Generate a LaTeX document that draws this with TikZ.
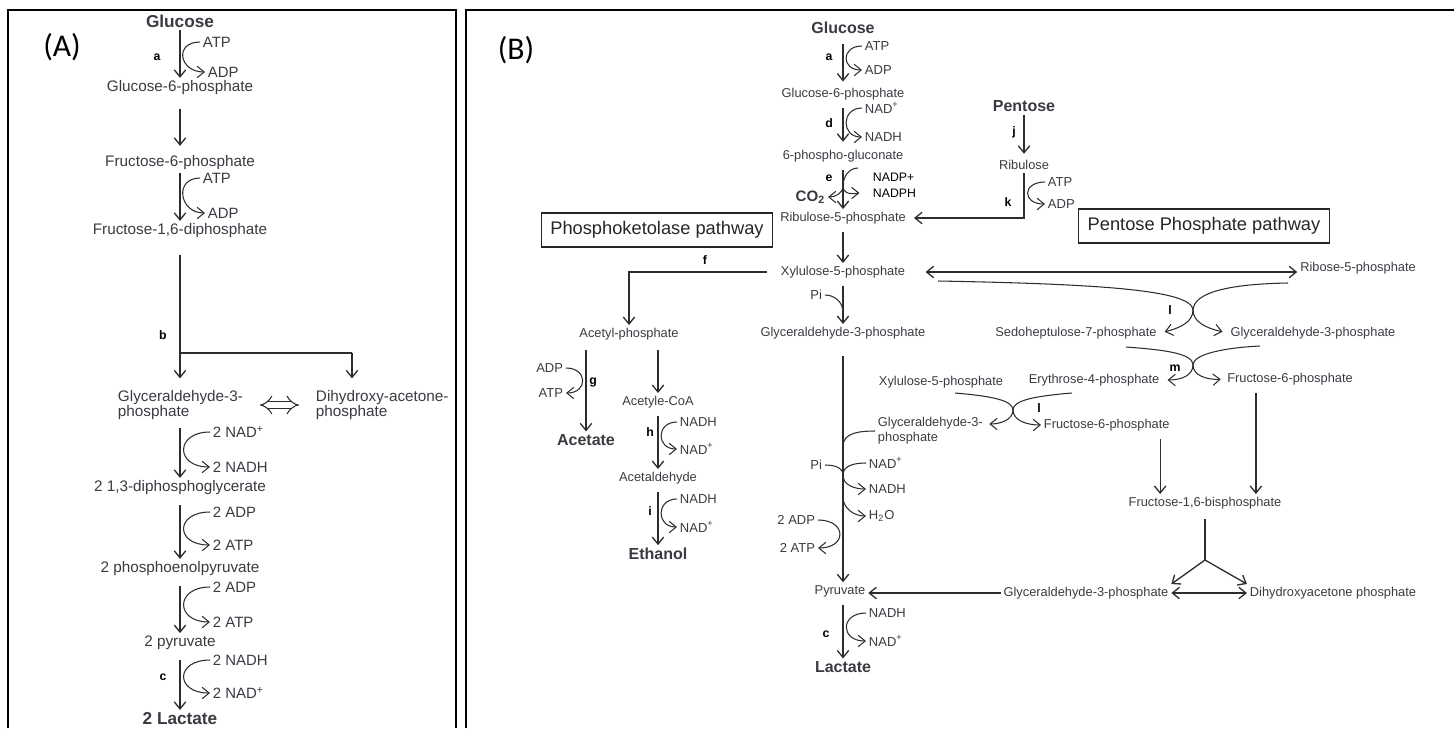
\documentclass[tikz,border=0pt]{standalone}
\usepackage{fontspec}
\setmainfont{Liberation Sans}
\newfontfamily\calib{Carlito}
\usetikzlibrary{arrows.meta}
\definecolor{ink}{RGB}{58,58,66}
\definecolor{wire}{RGB}{45,45,45}

\begin{document}
\begin{tikzpicture}[x=0.02cm,y=-0.02cm,
  >={Straight Barb[length=4pt,width=6.5pt]},
  every node/.style={text=ink,inner sep=1.5pt},
  mA/.style={font=\fontsize{8.7}{8.8}\selectfont},
  mB/.style={font=\fontsize{7.3}{8.6}\selectfont},
  endA/.style={font=\bfseries\fontsize{9.8}{11}\selectfont},
  endB/.style={font=\bfseries\fontsize{9.1}{11}\selectfont},
  coA/.style={anchor=west,font=\fontsize{8.5}{10}\selectfont},
  coB/.style={anchor=west,font=\fontsize{7.4}{9}\selectfont},
  enz/.style={text=black,font=\bfseries\fontsize{7}{8}\selectfont},
  flow/.style={draw=wire,line width=0.75pt},
  cof/.style={draw=wire,line width=0.6pt},
  pathbox/.style={draw=black!85,line width=0.7pt,text=black!85,
    minimum height=0.68cm,font=\fontsize{10.4}{12}\selectfont},
  panel/.style={text=black,font=\calib\fontsize{18}{20}\selectfont}]
\useasboundingbox (0,0) rectangle (1454,728);

% frames
\draw[line width=1pt] (8,728) -- (8,10) -- (456,10) -- (456,728);
\draw[line width=1pt] (466,728) -- (466,10) -- (1454,10);
\node[panel] (lblA) at (62,47) {(A)};
\node[panel] (lblB) at (516,50) {(B)};

% ---------------- (A) glycolysis
\node[endA] (glcA) at (180,21) {Glucose};
\node[mA] (g6pA) at (180,88) {Glucose-6-phosphate};
\node[mA] (f6pA) at (180,163) {Fructose-6-phosphate};
\node[mA] (fbpA) at (180,231) {Fructose-1,6-diphosphate};
\node[mA,align=left,anchor=west] (g3pA) at (115,405) {Glyceraldehyde-3-\\phosphate};
\node[mA,align=left,anchor=west] (dhapA) at (313,405) {Dihydroxy-acetone-\\phosphate};
\node[mA] (dpgA) at (180,488) {2 1,3-diphosphoglycerate};
\node[mA] (pepA) at (180,569) {2 phosphoenolpyruvate};
\node[mA] (pyrA) at (180,643) {2 pyruvate};
\node[endA] (lacA) at (180,719) {2 Lactate};

\node[coA] (atpA1) at (200,42) {ATP};
\node[coA] (adpA1) at (205,72) {ADP};
\node[coA] (atpA2) at (200,178) {ATP};
\node[coA] (adpA2) at (205,213) {ADP};
\node[coA] (nadA1) at (210,432) {2 NAD\textsuperscript{+}};
\node[coA] (nadhA1) at (210,467) {2 NADH};
\node[coA] (adpA3) at (210,512) {2 ADP};
\node[coA] (atpA3) at (210,545) {2 ATP};
\node[coA] (adpA4) at (210,587) {2 ADP};
\node[coA] (atpA4) at (210,622) {2 ATP};
\node[coA] (nadhA2) at (210,660) {2 NADH};
\node[coA] (nadA2) at (210,693) {2 NAD\textsuperscript{+}};
\node[enz] (eaA) at (157,57) {a};
\node[enz] (ebA) at (163,335) {b};
\node[enz] (ecA) at (163,677) {c};

\draw[flow,->] (glcA) -- (g6pA);
\draw[flow,->,shorten <=6pt,shorten >=4pt] (g6pA) -- (f6pA);
\draw[flow,->] (f6pA) -- (fbpA);
\coordinate (bA) at (180,353);
\coordinate (bA2) at (352,353);
\draw[flow,shorten <=8pt] (fbpA) -- (bA) -- (bA2);
\draw[flow,->,shorten >=5pt] (bA) -- (bA |- g3pA.north);
\draw[flow,->,shorten >=5pt] (bA2) -- (bA2 |- dhapA.north);
\draw[wire,line width=0.6pt,double distance=3.2pt,{Implies}-{Implies},
  shorten <=8pt,shorten >=8pt] (g3pA.east) -- (dhapA.west);
\draw[flow,->,shorten <=3pt] (dpgA |- g3pA.south) -- (dpgA);
\draw[flow,->,shorten <=4pt] (dpgA) -- (pepA);
\draw[flow,->,shorten <=4pt] (pepA) -- (pyrA);
\draw[flow,->,shorten <=4pt] (pyrA) -- (lacA);

\draw[cof,->] (atpA1.west) .. controls +(-26,0) and +(-26,0) .. (adpA1.west);
\draw[cof,->] (atpA2.west) .. controls +(-26,0) and +(-26,0) .. (adpA2.west);
\draw[cof,->] (nadA1.west) .. controls +(-35,0) and +(-35,0) .. (nadhA1.west);
\draw[cof,->] (adpA3.west) .. controls +(-35,0) and +(-35,0) .. (atpA3.west);
\draw[cof,->] (adpA4.west) .. controls +(-35,0) and +(-35,0) .. (atpA4.west);
\draw[cof,->] (nadhA2.west) .. controls +(-35,0) and +(-35,0) .. (nadA2.west);

% ---------------- (B) main column
\node[endB] (glcB) at (843,28) {Glucose};
\node[mB] (g6pB) at (843,94) {Glucose-6-phosphate};
\node[mB] (pgB) at (843,156) {6-phospho-gluconate};
\node[mB] (r5pB) at (843,218) {Ribulose-5-phosphate};
\node[mB] (x5pB) at (843,272) {Xylulose-5-phosphate};
\node[mB] (g3pB) at (843,333) {Glyceraldehyde-3-phosphate};
\node[mB] (pyrB) at (840,591) {Pyruvate};
\node[endB] (lacB) at (843,667) {Lactate};

\node[coB] (atpB1) at (862,46) {ATP};
\node[coB] (adpB1) at (862,70) {ADP};
\node[coB] (nadB1) at (862,108) {NAD\textsuperscript{+}};
\node[coB] (nadhB1) at (862,137) {NADH};
\node[coB,font=\fontsize{7}{8}\selectfont,text=black] (nadpB) at (870,177) {NADP+};
\node[coB,font=\fontsize{7}{8}\selectfont,text=black] (nadphB) at (870,193) {NADPH};
\node[endB,anchor=east,font=\bfseries\fontsize{8.6}{10}\selectfont] (co2B) at (828,197) {CO\textsubscript{2}};
\node[coB] (nadhB2) at (866,613) {NADH};
\node[coB] (nadB2) at (866,641) {NAD\textsuperscript{+}};
\node[enz] (eaB) at (829,57) {a};
\node[enz] (edB) at (829,123) {d};
\node[enz] (eeB) at (829,178) {e};
\node[enz] (ecB) at (826,634) {c};

\draw[flow,->,shorten <=4pt,shorten >=2pt] (glcB) -- (g6pB);
\draw[flow,->,shorten <=3pt,shorten >=3pt] (g6pB) -- (pgB);
\draw[flow,->,shorten <=3pt] (pgB) -- (r5pB);
\draw[flow,->,shorten <=3pt] (r5pB) -- (x5pB);
\draw[flow,->,shorten <=3pt] (x5pB) -- (g3pB);
\draw[flow,->,shorten <=8pt] (g3pB) -- (g3pB |- pyrB.north);
\draw[flow,->,shorten <=3pt] (pyrB.south -| lacB) -- (lacB);

\draw[cof,->] (atpB1.west) .. controls +(-21,0) and +(-21,0) .. (adpB1.west);
\draw[cof,->] (nadB1.west) .. controls +(-21,0) and +(-21,0) .. (nadhB1.west);
\draw[cof,->] (nadhB2.west) .. controls +(-26,0) and +(-26,0) .. (nadB2.west);
\coordinate (eS) at (858,168);
\coordinate (eJ) at (843,186);
\draw[cof] (eS) to[out=180,in=90] (eJ);
\draw[cof,->] (eJ) to[out=-90,in=0] (co2B.east);
\draw[cof,->,shorten >=6pt] (eJ) to[out=-90,in=180] (nadphB.west);

% pentose entry
\node[endB] (pentB) at (1024,106) {Pentose};
\node[mB] (ribB) at (1024,165) {Ribulose};
\node[coB] (atpB2) at (1045,182) {ATP};
\node[coB] (adpB2) at (1045,204) {ADP};
\node[enz] (ejB) at (1014,132) {j};
\node[enz] (ekB) at (1008,202) {k};
\draw[flow,->,shorten >=2pt] (pentB) -- (ribB);
\draw[flow,->,shorten >=3pt] (ribB) -- (ribB |- r5pB) -- (r5pB);
\draw[cof,->] (atpB2.west) .. controls +(-23,0) and +(-23,0) .. (adpB2.west);

\node[pathbox,minimum width=4.62cm] (pkBox) at (657,230) {Phosphoketolase pathway};
\node[pathbox,minimum width=5.02cm] (ppBox) at (1204,226) {Pentose Phosphate pathway};

% phosphoketolase branch
\node[mB] (acpB) at (629,334) {Acetyl-phosphate};
\node[endB] (acetB) at (586,440) {Acetate};
\node[mB] (acoaB) at (658,402) {Acetyle-CoA};
\node[mB] (aldB) at (658,478) {Acetaldehyde};
\node[endB] (ethB) at (658,554) {Ethanol};
\node[coB,anchor=east] (adpB3) at (566,368) {ADP};
\node[coB,anchor=east] (atpB3) at (566,393) {ATP};
\node[coB] (nadhB3) at (677,422) {NADH};
\node[coB] (nadB3) at (677,449) {NAD\textsuperscript{+}};
\node[coB] (nadhB4) at (677,499) {NADH};
\node[coB] (nadB4) at (677,527) {NAD\textsuperscript{+}};
\node[enz] (efB) at (705,260) {f};
\node[enz] (egB) at (593,382) {g};
\node[enz] (ehB) at (650,432) {h};
\node[enz] (eiB) at (650,511) {i};
\draw[flow,->,shorten <=6pt] (x5pB.west) -| (acpB.north);
\draw[flow,->,shorten <=4pt] (acetB |- acpB.south) -- (acetB);
\draw[flow,->,shorten <=4pt] (acoaB |- acpB.south) -- (acoaB);
\draw[flow,->,shorten <=3pt] (acoaB) -- (aldB);
\draw[flow,->,shorten <=3pt] (aldB) -- (ethB);
\draw[cof,->] (adpB3.east) .. controls +(22,0) and +(22,0) .. (atpB3.east);
\draw[cof,->] (nadhB3.west) .. controls +(-21,0) and +(-21,0) .. (nadB3.west);
\draw[cof,->] (nadhB4.west) .. controls +(-21,0) and +(-21,0) .. (nadB4.west);

% lower glycolysis in (B)
\node[coB,anchor=east] (piB) at (825,295) {Pi};
\coordinate (piJ) at (843,312);
\draw[cof] (piB.east) to[out=0,in=90] (piJ);
\node[mB,align=left,anchor=west] (g3p2B) at (875,431) {Glyceraldehyde-3-\\phosphate};
\node[coB,anchor=east] (pi2B) at (825,465) {Pi};
\node[coB] (nadB5) at (866,463) {NAD\textsuperscript{+}};
\node[coB] (nadhB5) at (866,489) {NADH};
\node[coB] (h2oB) at (866,516) {H\textsubscript{2}O};
\node[coB,anchor=east] (adpB4) at (818,520) {2 ADP};
\node[coB,anchor=east] (atpB4) at (818,548) {2 ATP};
\coordinate (g3J) at (843,446);
\coordinate (piJ2) at (843,475);
\coordinate (h2oJ) at (843,497);
\draw[cof] (g3p2B.west) to[out=180,in=90] (g3J);
\draw[cof] (pi2B.east) to[out=0,in=90] (piJ2);
\draw[cof] (nadB5.west) to[out=180,in=90] (piJ2);
\draw[cof,->] (piJ2) to[out=-90,in=180] (nadhB5.west);
\draw[cof,->] (h2oJ) to[out=-90,in=180] (h2oB.west);
\draw[cof,->] (adpB4.east) .. controls +(29,0) and +(29,0) .. (atpB4.east);

% pentose phosphate side
\node[mB] (r5pRB) at (1358,268) {Ribose-5-phosphate};
\node[mB] (sedB) at (1076,333) {Sedoheptulose-7-phosphate};
\node[mB] (g3pRB) at (1313,333) {Glyceraldehyde-3-phosphate};
\node[mB] (x5p2B) at (941,382) {Xylulose-5-phosphate};
\node[mB] (eryB) at (1094,380) {Erythrose-4-phosphate};
\node[mB] (fru6RB) at (1290,379) {Fructose-6-phosphate};
\node[mB,anchor=west] (fru6LB) at (1041,425) {Fructose-6-phosphate};
\node[mB] (fbpB) at (1205,503) {Fructose-1,6-bisphosphate};
\node[mB] (g3p3B) at (1086,593) {Glyceraldehyde-3-phosphate};
\node[mB] (dhapB) at (1333,593) {Dihydroxyacetone phosphate};
\node[enz] (el1B) at (1170,310) {l};
\node[enz] (emB) at (1175,368) {m};
\node[enz] (el2B) at (1039,408) {l};

\draw[flow,<->,shorten <=10pt] (x5pB.east) -- (x5pB.east -| r5pRB.west);

% transketolase / transaldolase crossings
\coordinate (lA) at (938,281);
\coordinate (lB) at (1288,283);
\coordinate (lJ) at (1193,310);
\draw[cof] (lA) .. controls (1100,284) and (1192,290) .. (lJ);
\draw[cof] (lB) .. controls (1230,284) and (1194,292) .. (lJ);
\draw[cof,->,shorten >=3pt] (lJ) .. controls (1193,322) and (1180,328) .. (sedB.east);
\draw[cof,->,shorten >=3pt] (lJ) .. controls (1193,322) and (1206,328) .. (g3pRB.west);

\coordinate (mA) at (1126,347);
\coordinate (mB) at (1260,346);
\coordinate (mJ) at (1193,365);
\draw[cof] (mA) .. controls (1168,350) and (1193,354) .. (mJ);
\draw[cof] (mB) .. controls (1220,348) and (1193,355) .. (mJ);
\draw[cof,->,shorten >=3pt] (mJ) .. controls (1193,375) and (1182,380) .. (eryB.east);
\draw[cof,->,shorten >=2pt] (mJ) .. controls (1193,375) and (1206,380) .. (fru6RB.west);

\coordinate (l2A) at (955,393);
\coordinate (l2B) at (1072,393);
\coordinate (l2J) at (1013,410);
\draw[cof] (l2A) .. controls (990,396) and (1013,400) .. (l2J);
\draw[cof] (l2B) .. controls (1036,396) and (1013,400) .. (l2J);
\draw[cof,->,shorten >=2pt] (l2J) .. controls (1013,420) and (1000,424) .. ([yshift=4pt]g3p2B.east);
\draw[cof,->] (l2J) .. controls (1013,420) and (1026,425) .. (fru6LB.west);

\coordinate (f6Ldown) at ([xshift=-7pt]fru6LB.south east);
\coordinate (f6Rdown) at ([xshift=18pt]fru6RB.south west);
\draw[flow,->,shorten <=3pt] (f6Ldown) -- (f6Ldown |- fbpB.north);
\draw[flow,->,shorten <=3pt] (f6Rdown) -- (f6Rdown |- fbpB.north);
\coordinate (spJ) at (1205,560);
\draw[flow,shorten <=4pt] (fbpB) -- (spJ);
\draw[flow,->] (spJ) -- (g3p3B.north east);
\draw[flow,->] (spJ) -- (dhapB.north west);
\draw[flow,<->] (g3p3B.east) -- (dhapB.west);
\draw[flow,->] (g3p3B.west) -- (g3p3B.west -| pyrB.east);
\end{tikzpicture}
\end{document}
